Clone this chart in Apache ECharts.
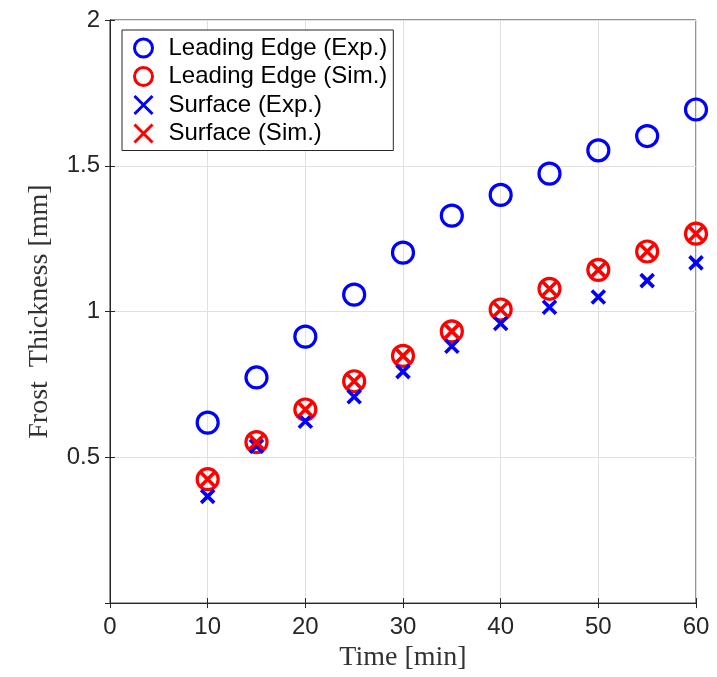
<!DOCTYPE html>
<html>
<head>
<meta charset="utf-8">
<script src="https://cdn.jsdelivr.net/npm/echarts@6/dist/echarts.min.js"></script>
<style>
html,body{margin:0;padding:0;background:#fff;}
#chart{width:717px;height:677px;}
</style>
</head>
<body>
<div id="chart"></div>
<script>
// Data
const times = [10, 15, 20, 25, 30, 35, 40, 45, 50, 55, 60];
const leadingEdgeExp = [0.619, 0.774, 0.914, 1.058, 1.202, 1.329, 1.400, 1.473, 1.553, 1.602, 1.693];
const leadingEdgeSim = [0.425, 0.552, 0.664, 0.761, 0.848, 0.932, 1.007, 1.078, 1.143, 1.206, 1.267];
const surfaceExp = [0.366, 0.538, 0.624, 0.708, 0.794, 0.881, 0.959, 1.015, 1.050, 1.106, 1.167];
const surfaceSim = [0.425, 0.552, 0.664, 0.761, 0.848, 0.932, 1.007, 1.078, 1.143, 1.206, 1.267];
const seriesNames = ['Leading Edge (Exp.)', 'Leading Edge (Sim.)', 'Surface (Exp.)', 'Surface (Sim.)'];
const xTicks = [0, 10, 20, 30, 40, 50, 60];
const yTicks = [0.5, 1, 1.5, 2];

const pair = (xs, ys) => xs.map((x, i) => [x, ys[i]]);
const crossPath = 'path://M0,0L10,10M10,0L0,10';
const ringPath = 'path://M20,10A10,10 0 1,1 0,10A10,10 0 1,1 20,10Z';
const axisColor = '#262626';

const chart = echarts.init(document.getElementById('chart'), null, {renderer: 'canvas'});

function circleSeries(name, data, color) {
  return {
    name, type: 'scatter', data,
    symbol: ringPath, symbolSize: 21,
    itemStyle: {color: 'none', borderColor: color, borderWidth: 3.2, opacity: 1},
    emphasis: {disabled: true}
  };
}
function crossSeries(name, data, color) {
  return {
    name, type: 'scatter', data,
    symbol: crossPath, symbolSize: 13,
    itemStyle: {color: 'none', borderColor: color, borderWidth: 3.6, opacity: 1},
    emphasis: {disabled: true}
  };
}

const option = {
  backgroundColor: '#fff',
  animation: false,
  grid: {left: 110, right: 21, top: 20, bottom: 72, show: true, borderColor: axisColor, borderWidth: 1},
  legend: {
    orient: 'vertical', left: 122, top: 30,
    padding: [6, 6, 5, 10],
    itemGap: 4.5, itemWidth: 40, itemHeight: 18,
    backgroundColor: '#fff', borderColor: axisColor, borderWidth: 1,
    itemStyle: {borderWidth: 3},
    textStyle: {fontFamily: 'Liberation Sans, Arial, sans-serif', fontSize: 24, lineHeight: 24, color: '#000'},
    data: seriesNames
  },
  xAxis: [{
    type: 'value', min: 0, max: 60, interval: 10,
    name: 'Time [min]', nameLocation: 'middle', nameGap: 40,
    nameTextStyle: {fontFamily: 'Liberation Serif, Times New Roman, serif', fontSize: 28, color: '#333'},
    axisLine: {show: true, lineStyle: {color: axisColor, width: 1}},
    axisTick: {show: true, inside: true, length: 5, lineStyle: {color: axisColor}},
    axisLabel: {margin: 12, fontFamily: 'Liberation Sans, Arial, sans-serif', fontSize: 24, color: axisColor,
      formatter: v => xTicks.includes(v) ? String(v) : ''},
    splitLine: {show: true, lineStyle: {color: '#e0e0e0', width: 1}}
  }, {
    type: 'value', min: 0, max: 60, interval: 10, position: 'top',
    axisLine: {show: true, lineStyle: {color: axisColor, width: 1}},
    axisTick: {show: true, inside: true, length: 5, lineStyle: {color: axisColor}},
    axisLabel: {show: false}, splitLine: {show: false}
  }],
  yAxis: [{
    type: 'value', min: 0, max: 2, interval: 0.5,
    name: 'Frost  Thickness [mm]', nameLocation: 'middle', nameGap: 56,
    nameTextStyle: {fontFamily: 'Liberation Serif, Times New Roman, serif', fontSize: 28, color: '#333'},
    axisLine: {show: true, lineStyle: {color: axisColor, width: 1}},
    axisTick: {show: true, inside: true, length: 5, lineStyle: {color: axisColor}},
    axisLabel: {margin: 10, fontFamily: 'Liberation Sans, Arial, sans-serif', fontSize: 24, color: axisColor,
      formatter: v => yTicks.includes(v) ? String(v) : ''},
    splitLine: {show: true, lineStyle: {color: '#e0e0e0', width: 1}}
  }, {
    type: 'value', min: 0, max: 2, interval: 0.5, position: 'right',
    axisLine: {show: true, lineStyle: {color: axisColor, width: 1}},
    axisTick: {show: true, inside: true, length: 5, lineStyle: {color: axisColor}},
    axisLabel: {show: false}, splitLine: {show: false}
  }],
  series: [
    circleSeries(seriesNames[0], pair(times, leadingEdgeExp), '#0000ff'),
    circleSeries(seriesNames[1], pair(times, leadingEdgeSim), '#ff0000'),
    crossSeries(seriesNames[2], pair(times, surfaceExp), '#0000ff'),
    crossSeries(seriesNames[3], pair(times, surfaceSim), '#ff0000')
  ]
};
chart.setOption(option);
</script>
</body>
</html>
